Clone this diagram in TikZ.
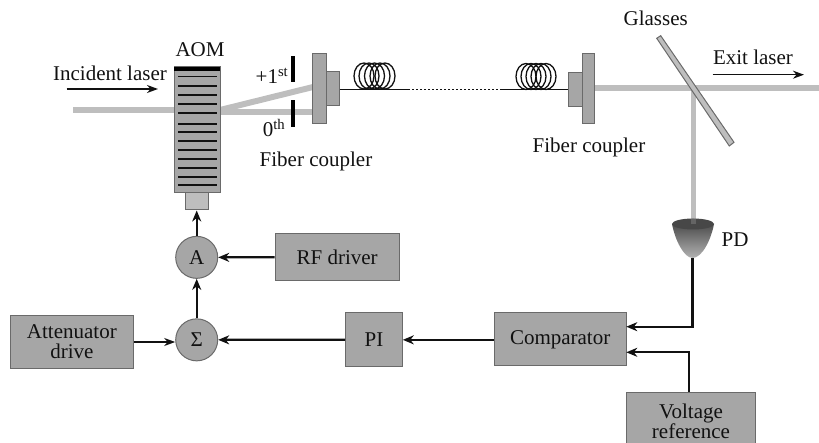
\documentclass[tikz,border=0pt]{standalone}
\usepackage{fontspec}
\setmainfont{Liberation Serif}
\usetikzlibrary{arrows.meta}
\definecolor{boxfill}{HTML}{A6A6A6}
\definecolor{boxline}{HTML}{6A6A6A}
\definecolor{beamc}{HTML}{BEBEBE}
\definecolor{inkc}{HTML}{111111}
\tikzset{
  every node/.style={font=\fontsize{21}{20}\selectfont,text=inkc,inner sep=0pt,align=center},
  blockbox/.style={draw=boxline,fill=boxfill,line width=1pt},
  ringnode/.style={circle,draw=boxline,fill=boxfill,line width=1pt,minimum size=42pt},
  beam/.style={draw=beamc,line width=6pt},
  sig/.style={-{Stealth[length=11pt,width=9pt,inset=3.5pt]},line width=2.2pt,draw=inkc},
  thinarrow/.style={-{Stealth[length=11pt,width=8pt,inset=3.5pt]},line width=1.6pt,draw=inkc},
  wire/.style={line width=1.4pt,draw=inkc},
  fibercoil/.style={line width=1.3pt,draw=inkc},
  slit/.style={fill=black,draw=none},
  gratingline/.style={line width=1.6pt,draw=inkc}
}
\newcommand{\mybox}[6]{% name, x0, y0, x1, y1, text
  \node[blockbox,minimum width={(#4-#2)*1pt},minimum height={(#5-#3)*1pt}] (#1) at ({(#2+#4)/2},{(#3+#5)/2}) {#6};}
\begin{document}
\begin{tikzpicture}[x=1pt,y=-1pt]
\useasboundingbox (0,0) rectangle (819,443);
% beams
\coordinate (inStart) at (73,110);
\coordinate (aomOut) at (220,110);
\coordinate (exitEnd) at (819,88);
\coordinate (splitPt) at (693,88);
\draw[beam] (inStart) -- (aomOut);
\draw[beam] (aomOut) -- (313,87);
\draw[beam] (220,112) -- (313,112);
\draw[beam] (594,88) -- (exitEnd);
\draw[beam,line width=5pt] (splitPt) -- (693,226);
% AOM
\mybox{aom}{174}{67}{220}{193}{}
\fill[black] (174,67) rectangle (220,71);
\foreach \yy in {76.7,86,95,104,113.3,124,132.3,141,150,159,168.3,177.3,185}
  \draw[gratingline] (178,\yy) -- (217,\yy);
\node[blockbox,fill=beamc,minimum width=22.5pt,minimum height=17pt] (trans) at (197,201.5) {};
\node (aomlabel) at (200,50) {AOM};
\node (inclabel) at (110,73) {Incident laser};
\coordinate (inA) at (66.7,89);
\coordinate (inB) at (158,89);
\draw[thinarrow] (inA) -- (inB);
% slits
\fill[slit] (290.7,55.7) rectangle (294.7,82);
\fill[slit] (290.7,100) rectangle (294.7,126.7);
\node (firstlabel) at (272,76) {+1\textsuperscript{st}};
\node (zerolabel) at (274,128) {0\textsuperscript{th}};
% couplers
\mybox{cplA}{312.7}{53.3}{326.7}{124}{}
\mybox{cplB}{326.7}{71.7}{339.7}{105.7}{}
\mybox{cplC}{568}{73}{582}{107}{}
\mybox{cplD}{582}{54}{594}{124}{}
\node (fcA) at (316,161) {Fiber coupler};
\node (fcB) at (589,147) {Fiber coupler};
% fibre
\coordinate (fibA) at (408,89.5);
\coordinate (fibB) at (500,89.5);
\draw[wire] (339.7,89.5) -- (fibA);
\draw[wire,dash pattern=on 2pt off 2pt] (fibA) -- (fibB);
\draw[wire] (fibB) -- (568,89.5);
\foreach \cx in {364,369,374.5,380,385}
  \draw[fibercoil] (\cx,76) ellipse [x radius=10,y radius=13];
\foreach \cx in {526,531,536,541,546}
  \draw[fibercoil] (\cx,76.5) ellipse [x radius=10,y radius=13];
% glass plate
\filldraw[fill=beamc,draw=boxline,line width=1pt] (656.7,38.3) -- (660.7,35.7) -- (734,142.3) -- (729.3,146) -- cycle;
\node (glasslabel) at (655.7,18) {Glasses};
\node (exitlabel) at (753,57) {Exit laser};
\coordinate (exA) at (712.7,74.7);
\coordinate (exB) at (804,74.7);
\draw[thinarrow] (exA) -- (exB);
% PD
\coordinate (pdBottom) at (692.5,258);
\shade[top color=black!70,bottom color=black!30] (672,224) .. controls (675,240) and (684,258) .. (pdBottom) .. controls (702,258) and (711,240) .. (714,224) -- cycle;
\fill[black!72] (693,224) ellipse [x radius=21,y radius=5.5];
\fill[beamc,opacity=.25] (690.5,219) rectangle (695.5,224);
\node (pdlabel) at (735,240) {PD};
% electronics
\node[ringnode] (amp) at (196.7,257.35) {A};
\node[ringnode] (sum) at (196.7,339.85) {Σ};
\mybox{rf}{275}{234}{399.3}{280.7}{RF driver}
\mybox{att}{10}{315.3}{133.7}{368.7}{Attenuator\\drive}
\mybox{pi}{345.7}{312.7}{402.3}{367}{PI}
\mybox{cmp}{494}{312.7}{626.3}{366}{Comparator}
\mybox{vref}{626.7}{392.3}{755.3}{450}{Voltage\\reference}
\coordinate (cmpA) at (626.3,326.7);
\coordinate (cmpB) at (626.3,352.3);
% connectors
\draw[sig] (amp.north) -- (amp.north |- trans.south);
\draw[sig] (sum.north) -- (amp.south);
\draw[sig] (rf.west) -- (amp.east);
\draw[thinarrow] (att.east) -- (att.east -| sum.west);
\draw[sig] (pi.west) -- (sum.east);
\draw[sig] (cmp.west |- pi.west) -- (pi.east);
\draw[sig] (pdBottom) -- (pdBottom |- cmpA) -- (cmpA);
\draw[sig] ([xshift=-2pt]vref.north) -- ([xshift=-2pt]vref.north |- cmpB) -- (cmpB);
\end{tikzpicture}
\end{document}
